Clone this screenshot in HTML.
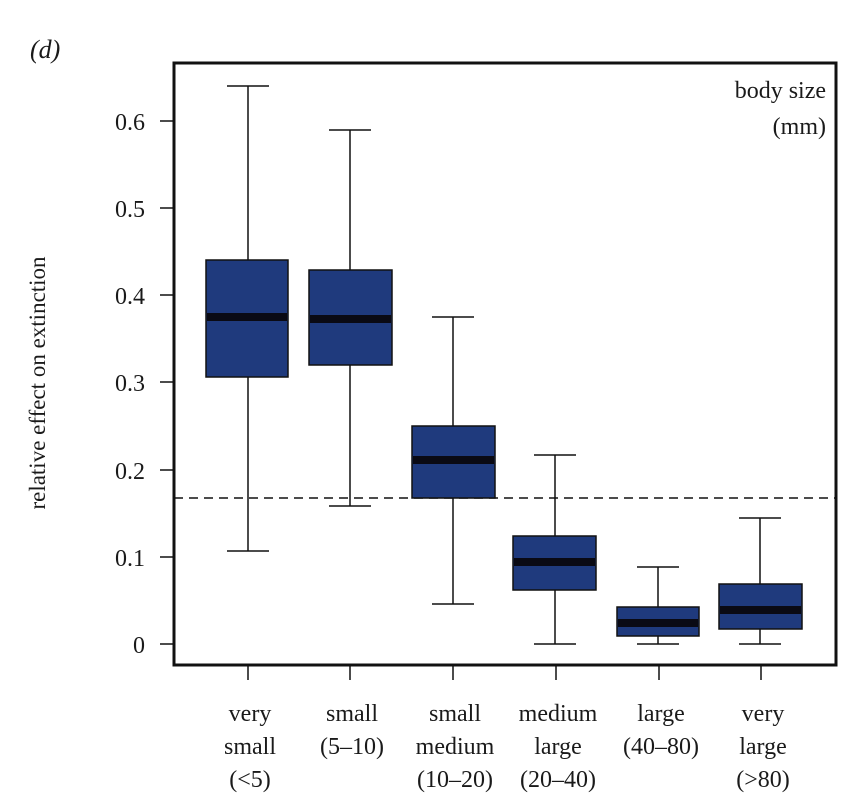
<!DOCTYPE html>
<html><head><style>body{margin:0;background:#fff}</style></head><body>
<svg width="843" height="796" xmlns="http://www.w3.org/2000/svg" font-family="Liberation Serif, serif" fill="#1a1a1a">
<text x="30" y="58" font-size="26" font-style="italic">(d)</text>
<rect x="174" y="63" width="662" height="602" fill="none" stroke="#111" stroke-width="3"/>
<g stroke="#111" stroke-width="1.5">
<line x1="160" y1="644" x2="173" y2="644"/><line x1="160" y1="557" x2="173" y2="557"/>
<line x1="160" y1="470" x2="173" y2="470"/><line x1="160" y1="382" x2="173" y2="382"/>
<line x1="160" y1="295" x2="173" y2="295"/><line x1="160" y1="208" x2="173" y2="208"/>
<line x1="160" y1="121" x2="173" y2="121"/>
<line x1="248" y1="666" x2="248" y2="680"/><line x1="350" y1="666" x2="350" y2="680"/>
<line x1="453" y1="666" x2="453" y2="680"/><line x1="556" y1="666" x2="556" y2="680"/>
<line x1="659" y1="666" x2="659" y2="680"/><line x1="761" y1="666" x2="761" y2="680"/>
</g>
<g font-size="24" text-anchor="end">
<text x="145" y="653">0</text><text x="145" y="566">0.1</text><text x="145" y="479">0.2</text>
<text x="145" y="391">0.3</text><text x="145" y="304">0.4</text><text x="145" y="217">0.5</text><text x="145" y="130">0.6</text>
</g>
<text transform="translate(45,383) rotate(-90)" font-size="23" text-anchor="middle">relative effect on extinction</text>
<text x="826" y="98" font-size="24" text-anchor="end">body size</text>
<text x="826" y="134" font-size="24" text-anchor="end">(mm)</text>
<line x1="174" y1="498" x2="836" y2="498" stroke="#111" stroke-width="1.5" stroke-dasharray="9,6"/>
<g stroke="#111" stroke-width="1.5">
<line x1="248" y1="86" x2="248" y2="551"/><line x1="227" y1="86" x2="269" y2="86"/><line x1="227" y1="551" x2="269" y2="551"/>
<rect x="206" y="260" width="82" height="117" fill="#1f3a7d"/>
<line x1="350" y1="130" x2="350" y2="506"/><line x1="329" y1="130" x2="371" y2="130"/><line x1="329" y1="506" x2="371" y2="506"/>
<rect x="309" y="270" width="83" height="95" fill="#1f3a7d"/>
<line x1="453" y1="317" x2="453" y2="604"/><line x1="432" y1="317" x2="474" y2="317"/><line x1="432" y1="604" x2="474" y2="604"/>
<rect x="412" y="426" width="83" height="72" fill="#1f3a7d"/>
<line x1="555" y1="455" x2="555" y2="644"/><line x1="534" y1="455" x2="576" y2="455"/><line x1="534" y1="644" x2="576" y2="644"/>
<rect x="513" y="536" width="83" height="54" fill="#1f3a7d"/>
<line x1="658" y1="567" x2="658" y2="644"/><line x1="637" y1="567" x2="679" y2="567"/><line x1="637" y1="644" x2="679" y2="644"/>
<rect x="617" y="607" width="82" height="29" fill="#1f3a7d"/>
<line x1="760" y1="518" x2="760" y2="644"/><line x1="739" y1="518" x2="781" y2="518"/><line x1="739" y1="644" x2="781" y2="644"/>
<rect x="719" y="584" width="83" height="45" fill="#1f3a7d"/>
</g>
<g fill="#0a0a14">
<rect x="207" y="313" width="80" height="8"/><rect x="310" y="315" width="81" height="8"/>
<rect x="413" y="456" width="81" height="8"/><rect x="514" y="558" width="81" height="8"/>
<rect x="618" y="619" width="80" height="8"/><rect x="720" y="606" width="81" height="8"/>
</g>
<g font-size="24" text-anchor="middle">
<text x="250" y="721">very</text><text x="250" y="754">small</text><text x="250" y="787">(&lt;5)</text>
<text x="352" y="721">small</text><text x="352" y="754">(5–10)</text>
<text x="455" y="721">small</text><text x="455" y="754">medium</text><text x="455" y="787">(10–20)</text>
<text x="558" y="721">medium</text><text x="558" y="754">large</text><text x="558" y="787">(20–40)</text>
<text x="661" y="721">large</text><text x="661" y="754">(40–80)</text>
<text x="763" y="721">very</text><text x="763" y="754">large</text><text x="763" y="787">(&gt;80)</text>
</g>
</svg>
</body></html>
